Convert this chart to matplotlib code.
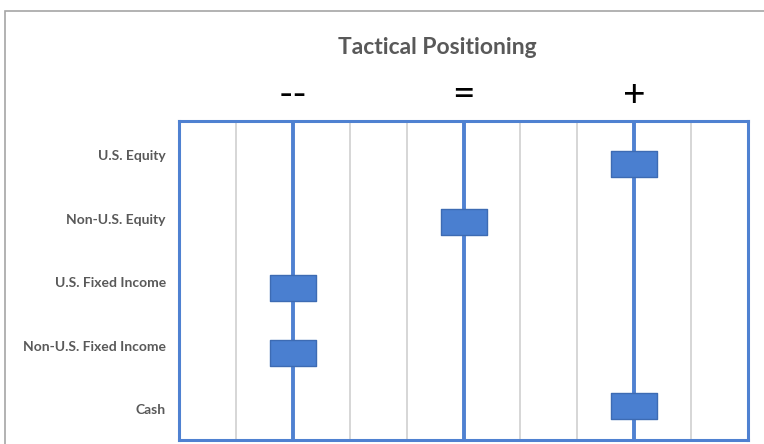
import numpy as np
import matplotlib
import matplotlib.pyplot as plt
from matplotlib.path import Path
from matplotlib.patches import Rectangle

matplotlib.rcParams['font.family'] = ['Lato', 'DejaVu Sans']

# asset classes, top to bottom
categories = ['U.S. Equity', 'Non-U.S. Equity', 'U.S. Fixed Income',
              'Non-U.S. Fixed Income', 'Cash']
label_pos = [4.47, 3.46, 2.47, 1.47, 0.48]

# position on the 0-10 scale (2 = underweight, 5 = neutral, 8 = overweight)
position = [8, 5, 2, 2, 8]
# vertical placement of each marker
marker_y = [4.32, 3.41, 2.38, 1.36, 0.54]

levels = [2, 5, 8]
level_symbols = ['--', '=', '+']

blue = '#4f81d1'
grey_text = '#595959'

fig = plt.figure(figsize=(7.64, 4.44), dpi=100)

# outer chart frame (runs off the right and bottom edges)
fig.patches.append(Rectangle((5 / 764, -0.1), 1.2, 1 - 11 / 444 + 0.1,
                             transform=fig.transFigure, fill=False,
                             edgecolor='#a6a6a6', linewidth=1.2))

ax = fig.add_axes([179 / 764, 4 / 444, 569 / 764, 319 / 444])
ax.set_xlim(0, 10)
ax.set_ylim(0, 5)

ax.set_xticks(np.arange(0, 11))
ax.grid(True, axis='x', color='#d0d0d0', linewidth=1.2)
ax.tick_params(axis='x', bottom=False, labelbottom=False)

ax.set_yticks(label_pos)
ax.set_yticklabels(categories, fontsize=10, fontweight='bold', color=grey_text)
ax.tick_params(axis='y', left=False, pad=6)

for s in ax.spines.values():
    s.set_color(blue)
    s.set_linewidth(2.2)

for lv in levels:
    ax.axvline(lv, color=blue, linewidth=2.8, zorder=2)

# wide rectangle marker
rect = Path([(-1, -0.57), (1, -0.57), (1, 0.57), (-1, 0.57), (-1, -0.57)],
            [Path.MOVETO, Path.LINETO, Path.LINETO, Path.LINETO, Path.CLOSEPOLY])
ax.plot(position, marker_y, linestyle='none', marker=rect, markersize=33,
        markerfacecolor='#4a7fd0', markeredgecolor='#3d6bb3',
        markeredgewidth=1, zorder=3, clip_on=False)

for lv, sym in zip(levels, level_symbols):
    ax.text(lv, 1.08, sym, transform=ax.get_xaxis_transform(),
            ha='center', va='center', fontsize=28, color='black')

fig.text(437 / 764, 1 - 47 / 444, 'Tactical Positioning', ha='center',
         va='center', fontsize=16.5, fontweight='bold', color=grey_text)

fig.savefig('out.png', dpi=100)
